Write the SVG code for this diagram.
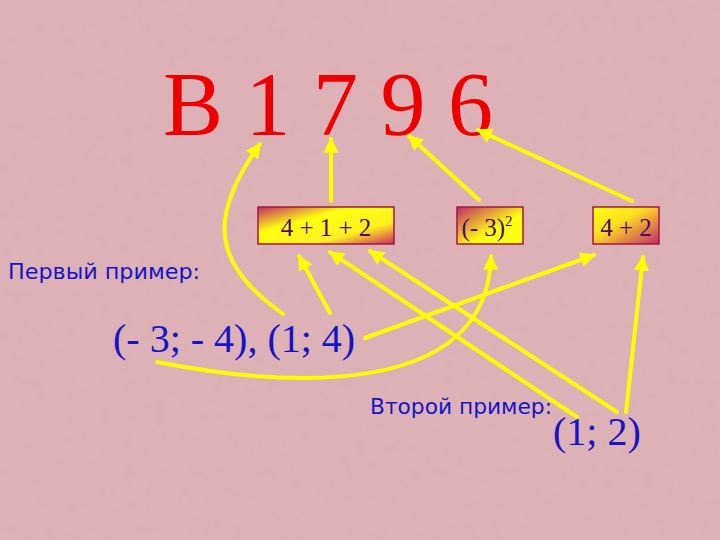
<svg xmlns="http://www.w3.org/2000/svg" width="720" height="540" viewBox="0 0 720 540">
<defs>
<filter id="tex" x="0" y="0" width="100%" height="100%">
<feTurbulence type="fractalNoise" baseFrequency="0.09" numOctaves="3" seed="3"/>
<feColorMatrix type="matrix" values="0 0 0 0 0.7  0 0 0 0 0.5  0 0 0 0 0.55  0 0 0 0.3 -0.08"/>
</filter>
<linearGradient id="g1" x1="0" y1="0" x2="1" y2="1">
<stop offset="0" stop-color="#c02a6a"/><stop offset="0.35" stop-color="#ffff10"/><stop offset="0.7" stop-color="#fff020"/><stop offset="1" stop-color="#c82a60"/>
</linearGradient>
<linearGradient id="g2" x1="0" y1="0" x2="1" y2="1">
<stop offset="0" stop-color="#c02a6a"/><stop offset="0.6" stop-color="#ffff10"/><stop offset="1" stop-color="#ffff10"/>
</linearGradient>
<linearGradient id="g3" x1="0" y1="0" x2="1" y2="1">
<stop offset="0" stop-color="#ffff10"/><stop offset="0.4" stop-color="#ffe020"/><stop offset="1" stop-color="#c02a6a"/>
</linearGradient>
<marker id="ah" viewBox="0 0 10 10" refX="9" refY="5" markerWidth="3.8" markerHeight="3.8" orient="auto" markerUnits="strokeWidth">
<path d="M0,0 L10,5 L0,10 z" fill="#ffff00"/>
</marker>
<style>
.box{stroke:#a01840;stroke-width:1.5}
.bt{font-family:"Liberation Serif","Times New Roman",serif;font-size:25px;fill:#4a0a70;text-anchor:middle}
.big{font-family:"Liberation Serif","Times New Roman",serif;font-size:40px;fill:#1515c8}
.lab{font-family:"DejaVu Sans","Noto Sans",sans-serif;font-size:22px;fill:#1515c8}
.c{fill:none;stroke:#ffff00;stroke-width:4;stroke-linecap:round;marker-end:url(#ah)}
</style>
</defs>
<rect width="720" height="540" fill="#ddb0b5"/>
<rect width="720" height="540" filter="url(#tex)"/>
<g id="title"><text x="163" y="135" font-family="'Liberation Serif','Times New Roman',serif" font-size="90" fill="#ee0000" xml:space="preserve">В 1 7 9 6</text></g>
<g id="box1"><rect class="box" x="258" y="207" width="136" height="37" fill="url(#g1)"/><text class="bt" x="326" y="236">4 + 1 + 2</text></g>
<g id="box2"><rect class="box" x="457" y="207" width="66" height="37" fill="url(#g2)"/><text class="bt" x="487" y="236">(- 3)<tspan font-size="15" dy="-10">2</tspan></text></g>
<g id="box3"><rect class="box" x="593" y="207" width="66" height="37" fill="url(#g3)"/><text class="bt" x="626" y="236">4 + 2</text></g>
<g id="label1"><text class="lab" x="8" y="279" textLength="192" lengthAdjust="spacingAndGlyphs">Первый пример:</text></g>
<g id="pairs1"><text class="big" x="113" y="352">(- 3; - 4), (1; 4)</text></g>
<g id="label2"><text class="lab" x="370" y="414" textLength="182" lengthAdjust="spacingAndGlyphs">Второй пример:</text></g>
<g id="pairs2"><text class="big" x="553" y="445">(1; 2)</text></g>
<g id="connectors">
<path class="c" d="M283,314 C215,265 205,220 260,144"/>
<path class="c" d="M330,313 L299,256"/>
<path class="c" d="M331,201 L331,139"/>
<path class="c" d="M479,200 L409,136"/>
<path class="c" d="M632,201 L478,130"/>
<path class="c" d="M365,338 L594,255"/>
<path class="c" d="M157,362 C300,390 488,395 491,256"/>
<path class="c" d="M577,417 L330,252"/>
<path class="c" d="M617,412 L370,251"/>
<path class="c" d="M626,412 L643,257"/>
</g>
</svg>
